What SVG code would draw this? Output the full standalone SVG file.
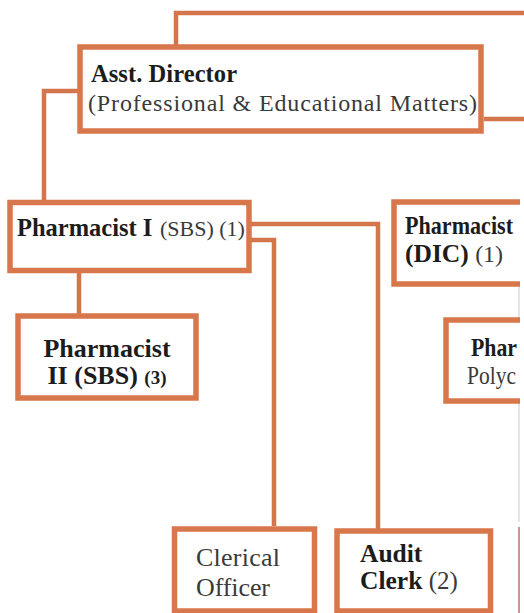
<svg xmlns="http://www.w3.org/2000/svg" width="524" height="613" viewBox="0 0 524 613">
  <style>
    .box { fill: #ffffff; stroke: #d8774b; stroke-width: 5.5; }
    .conn { fill: none; stroke: #d4754b; stroke-width: 4.5; stroke-linejoin: miter; }
    .b { font-family: "Liberation Serif", "Times New Roman", serif; font-weight: bold; fill: #1c1c1c; }
    .r { font-family: "Liberation Serif", "Times New Roman", serif; font-weight: normal; fill: #3a3a3a; }
  </style>
  <defs>
    <clipPath id="edge"><rect x="0" y="0" width="520" height="613"/></clipPath>
  </defs>
  <rect x="0" y="0" width="524" height="613" fill="#ffffff"/>

  <g id="connectors">
    <polyline class="conn" points="176,47 176,13 524,13"/>
    <line class="conn" x1="484" y1="119" x2="524" y2="119"/>
    <polyline class="conn" points="80,91 44,91 44,202"/>
    <line class="conn" x1="79" y1="271" x2="79" y2="316"/>
    <polyline class="conn" points="250,224 378,224 378,533"/>
    <polyline class="conn" points="250,240 274,240 274,526"/>
    <line x1="519" y1="200" x2="519" y2="522" stroke="#dddddd" stroke-width="1.5"/>
    <line x1="519" y1="527" x2="519" y2="613" stroke="#c99a86" stroke-width="2"/>
  </g>

  <g id="asst-director">
    <rect class="box" x="80" y="47" width="401" height="84"/>
    <text class="b" x="91" y="82" font-size="24.5" textLength="146">Asst. Director</text>
    <text class="r" x="88" y="111" font-size="24" textLength="389">(Professional &amp; Educational Matters)</text>
  </g>

  <g id="pharmacist-1">
    <rect class="box" x="10" y="202.5" width="239" height="68"/>
    <text x="17" y="236"><tspan class="b" font-size="24.5">Pharmacist I</tspan><tspan class="r" x="160" font-size="22">(SBS) (1)</tspan></text>
  </g>

  <g id="pharmacist-2">
    <rect class="box" x="18" y="316" width="178" height="82"/>
    <text class="b" x="107" y="357" font-size="26" text-anchor="middle">Pharmacist</text>
    <text x="107" y="384" text-anchor="middle"><tspan class="b" font-size="26">II (SBS) </tspan><tspan class="b" font-size="19">(3)</tspan></text>
  </g>

  <g id="pharmacist-dic">
    <rect class="box" x="394" y="202" width="160" height="82" clip-path="url(#edge)"/>
    <text class="b" x="405" y="234" font-size="24.5" textLength="108" lengthAdjust="spacingAndGlyphs">Pharmacist</text>
    <text x="405" y="262"><tspan class="b" font-size="25.5">(DIC) </tspan><tspan class="r" font-size="24">(1)</tspan></text>
  </g>

  <g id="pharmacist-polyclinic">
    <rect class="box" x="446" y="320" width="120" height="81" clip-path="url(#edge)"/>
    <text class="b" x="471" y="356" font-size="25.5" textLength="46" lengthAdjust="spacingAndGlyphs">Phar</text>
    <text class="r" x="467" y="384" font-size="25.5" textLength="49" lengthAdjust="spacingAndGlyphs">Polyc</text>
  </g>

  <g id="clerical-officer">
    <rect class="box" x="174.5" y="529" width="140" height="82"/>
    <text class="r" x="196" y="566" font-size="26" textLength="84">Clerical</text>
    <text class="r" x="196" y="596" font-size="26" textLength="74">Officer</text>
  </g>

  <g id="audit-clerk">
    <rect class="box" x="337" y="531" width="153.5" height="80"/>
    <text class="b" x="360" y="562" font-size="25.5">Audit</text>
    <text x="360" y="589"><tspan class="b" font-size="25.5">Clerk </tspan><tspan class="r" font-size="25">(2)</tspan></text>
  </g>
</svg>
